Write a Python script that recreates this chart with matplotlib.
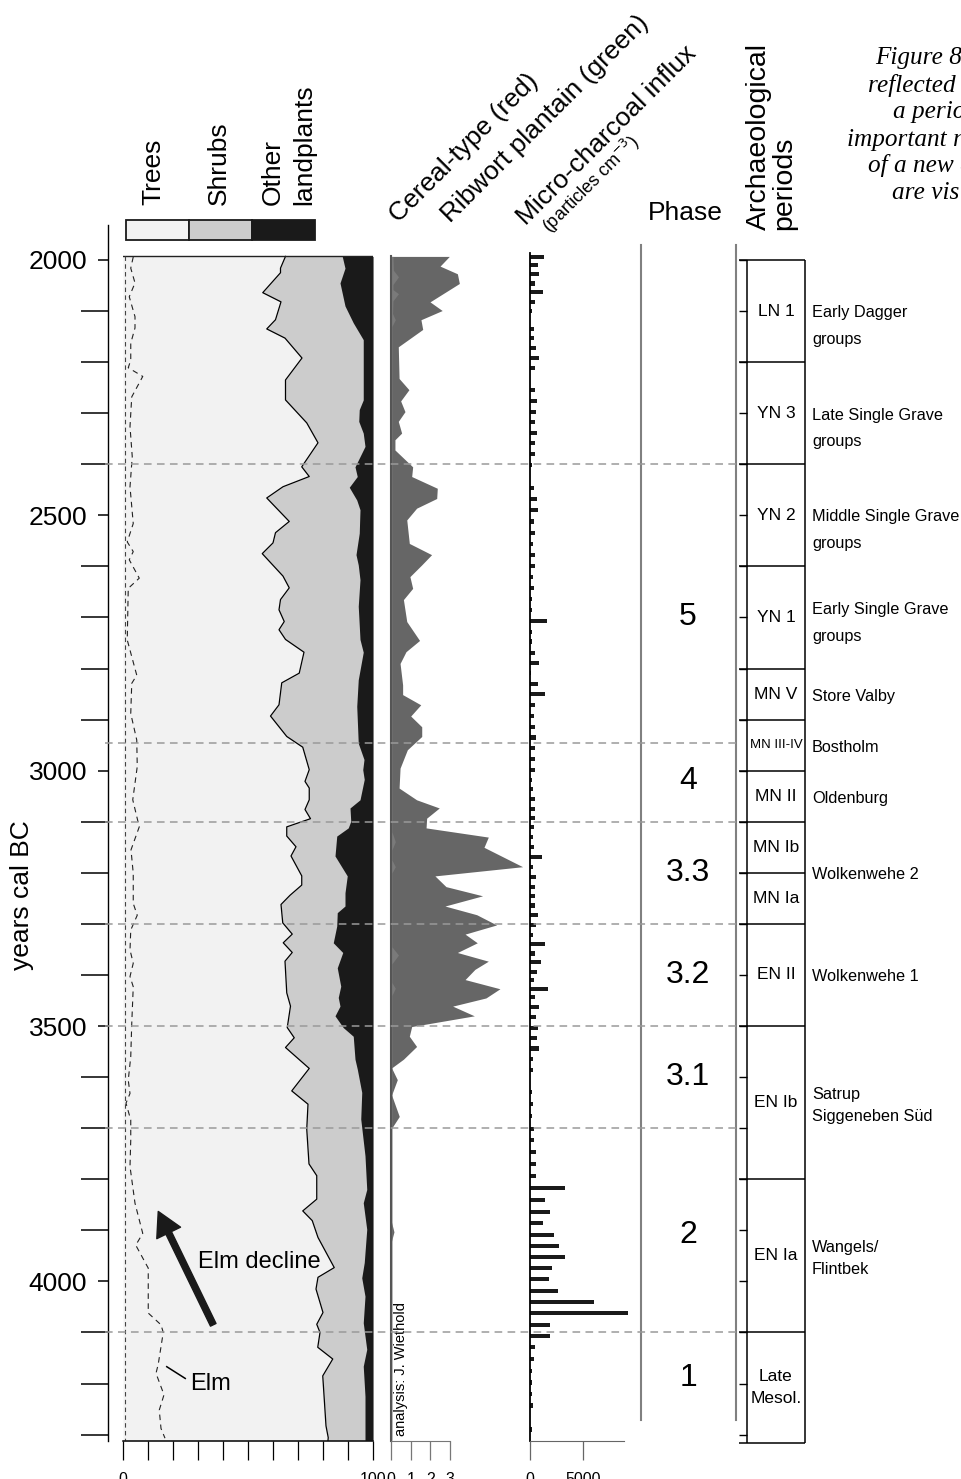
import matplotlib
matplotlib.use('Agg')
import matplotlib.pyplot as plt
from matplotlib.patches import Rectangle

plt.rcParams['font.family'] = ['Liberation Sans', 'DejaVu Sans']

# ------------------------------------------------------------------ data
tree_years = [1993, 2016, 2025, 2064, 2082, 2117, 2135, 2153, 2192, 2235, 2274, 2319, 2358,
              2405, 2424, 2444, 2466, 2512, 2534, 2554, 2575, 2619, 2642, 2665, 2685, 2708,
              2724, 2743, 2768, 2809, 2828, 2871, 2893, 2933, 2954, 2998, 3021, 3034, 3057,
              3076, 3094, 3110, 3128, 3149, 3167, 3206, 3224, 3244, 3262, 3298, 3320, 3337,
              3356, 3373, 3435, 3461, 3503, 3523, 3542, 3583, 3627, 3653, 3702, 3770, 3793,
              3839, 3862, 3881, 3914, 3973, 3992, 4015, 4061, 4084, 4100, 4129, 4152, 4185,
              4283, 4306, 4311]
tree_pct = [65, 63, 63, 55.9, 63.2, 61, 57.5, 64.8, 71.6, 65, 65, 73.5, 78,
            71.5, 74.5, 64, 57.5, 66.5, 61, 60, 55.7, 64, 66.5, 63, 62.4, 64.5,
            62.4, 65, 72.4, 70.5, 63.5, 62.4, 59, 65.5, 71.9, 74.5, 72.8, 74.5, 74.5,
            72.8, 75, 65.5, 65.5, 69.2, 67.2, 71.5, 71.5, 66.8, 63.2, 63.9, 67.7, 64.1,
            67.7, 64.8, 65.5, 67, 65.7, 68.5, 65, 74.5, 67.5, 74, 73.5, 74.4, 77.5,
            77.5, 71.9, 75.7, 78, 84.5, 78, 77.2, 80, 77.5, 78.8, 77.9, 83.9, 79.9,
            81.2, 82.1, 82]

shrub_years = [1993, 2016, 2045, 2090, 2123, 2156, 2274, 2293, 2316, 2339, 2365, 2405, 2424,
               2445, 2470, 2489, 2535, 2577, 2597, 2626, 2678, 2743, 2768, 2822, 2874, 2946,
               2978, 2998, 3017, 3057, 3073, 3099, 3112, 3128, 3167, 3206, 3239, 3265, 3278,
               3304, 3337, 3356, 3386, 3422, 3444, 3461, 3480, 3503, 3520, 3565, 3584, 3630,
               3682, 3754, 3820, 3846, 3898, 3963, 3993, 4029, 4081, 4133, 4166, 4225, 4311]
shrub_pct = [87.7, 88.8, 86.8, 88.8, 92.1, 96.1, 96.1, 94.5, 94.3, 96.1, 96.8, 92.8, 93.7,
             90.5, 93.5, 94.8, 94.5, 93.2, 94.1, 94.8, 94.1, 94.8, 96.1, 94.1, 93.5, 94.1,
             96.4, 95.9, 96.5, 94.8, 90.8, 91.1, 90.1, 85.5, 84.8, 89.7, 88.8, 88.8, 85.7,
             85.5, 84.1, 87.9, 85.7, 87.1, 86.1, 86.8, 84.8, 88.1, 92.1, 92.8, 93.7, 95.5,
             95.1, 96.8, 97.5, 96.1, 97.5, 96.5, 95.5, 96.8, 96.1, 97.5, 96.1, 96.8, 96.8]

elm_years = [1994, 2016, 2045, 2072, 2111, 2133, 2163, 2196, 2211, 2228, 2268, 2326, 2385,
             2444, 2516, 2552, 2571, 2587, 2623, 2643, 2744, 2813, 2829, 2888, 2940, 2992,
             3057, 3110, 3155, 3201, 3260, 3283, 3312, 3351, 3377, 3403, 3423, 3495, 3560,
             3606, 3632, 3651, 3684, 3723, 3775, 3847, 3906, 3929, 3974, 4062, 4085, 4100,
             4162, 4180, 4222, 4252, 4288, 4307]
elm_pct = [4.1, 3.1, 4.8, 2.5, 4.8, 4.8, 3.1, 3.1, 2.1, 7.9, 3.5, 2.8, 3.7,
           2.8, 4.1, 1.7, 4.1, 2.5, 6.5, 2.1, 1.7, 5.5, 3.5, 3.1, 5.5, 5.7,
           3.9, 6.5, 3.2, 4.1, 4.1, 5.7, 3.1, 2.8, 4.1, 2.8, 4.1, 3.5, 3.1,
           2.1, 2.8, 1.2, 3.1, 3.1, 2.8, 4.8, 7.9, 5.1, 10.1, 10.1, 15.2, 16.1,
           14.1, 13.2, 16.4, 14.5, 15.2, 16.8]

trace_years = [1993, 4311]
trace_pct = [0.6, 0.6]

ribwort_years = [1993, 2012, 2027, 2046, 2082, 2099, 2117, 2136, 2170, 2232, 2254, 2276, 2297,
                 2316, 2339, 2352, 2372, 2405, 2424, 2447, 2467, 2486, 2509, 2555, 2577, 2597,
                 2620, 2643, 2665, 2708, 2745, 2767, 2790, 2832, 2851, 2871, 2893, 2914, 2933,
                 2959, 2995, 3034, 3057, 3073, 3093, 3112, 3130, 3150, 3188, 3206, 3227, 3245,
                 3265, 3282, 3302, 3320, 3337, 3356, 3373, 3389, 3409, 3427, 3445, 3461, 3480,
                 3501, 3520, 3540, 3565, 3582, 3605, 3635, 3677, 3702, 3880, 3903, 3925, 4311]
ribwort_vals = [2.96, 2.49, 3.37, 3.47, 1.98, 2.6, 1.52, 1.61, 0.37, 0.41, 0.91, 0.49, 0.71,
                0.37, 0.54, 0.2, 0.2, 1.1, 1.05, 2.35, 2.32, 1.3, 0.8, 0.93, 2.06, 1.56,
                0.96, 1.1, 0.63, 0.8, 1.45, 0.76, 0.46, 0.59, 0.59, 1.51, 1.0, 1.56, 1.56,
                0.83, 0.46, 0.41, 1.3, 2.45, 1.81, 1.78, 4.94, 4.72, 6.68, 2.23, 2.79, 4.65,
                2.74, 4.35, 5.36, 3.76, 4.38, 3.37, 4.94, 4.26, 3.76, 5.53, 4.82, 3.13, 4.23,
                1.05, 0.93, 1.3, 0.63, 0.03, 0.32, 0.03, 0.42, 0.0, 0.0, 0.15, 0.0, 0.0]

cereal_years = [1993, 2020, 2033, 2048, 2058, 2066, 2080, 2105, 2117, 2130, 3120, 3139, 3155,
                3175, 3188, 3200, 3345, 3361, 3378, 3415, 3426, 3440, 4311]
cereal_vals = [0.1, 0.12, 0.38, 0.1, 0.1, 0.38, 0.1, 0.08, 0.22, 0.05, 0.05, 0.22, 0.05,
               0.05, 0.22, 0.05, 0.05, 0.38, 0.05, 0.05, 0.22, 0.05, 0.05]

charcoal_years = [1994, 2010, 2027, 2046, 2063, 2082, 2099, 2136, 2153, 2172, 2192, 2212, 2255,
                  2276, 2297, 2318, 2338, 2359, 2380, 2401, 2447, 2468, 2490, 2512, 2534, 2556,
                  2578, 2599, 2621, 2643, 2664, 2685, 2707, 2728, 2747, 2769, 2790, 2809, 2830,
                  2850, 2871, 2893, 2914, 2935, 2956, 2977, 2999, 3018, 3036, 3055, 3075, 3093,
                  3111, 3130, 3150, 3169, 3188, 3208, 3227, 3245, 3264, 3283, 3303, 3321, 3339,
                  3358, 3375, 3394, 3410, 3427, 3444, 3462, 3483, 3503, 3523, 3544, 3565, 3586,
                  3630, 3653, 3677, 3702, 3723, 3747, 3771, 3794, 3818, 3841, 3864, 3886, 3909,
                  3930, 3953, 3974, 3996, 4019, 4041, 4062, 4085, 4107, 4129, 4152, 4175, 4198,
                  4221, 4243, 4290]
charcoal_vals = [1340, 810, 900, 500, 1280, 500, 220, 400, 400, 560, 840, 500, 500,
                 710, 590, 470, 650, 500, 500, 190, 400, 650, 750, 400, 500, 280,
                 500, 500, 280, 400, 190, 190, 1590, 190, 190, 500, 840, 100, 780,
                 1460, 500, 400, 500, 560, 500, 500, 500, 190, 280, 500, 500, 500,
                 440, 340, 440, 1180, 340, 590, 530, 500, 500, 750, 590, 280, 1460,
                 530, 1060, 710, 400, 1740, 530, 900, 620, 780, 650, 900, 280, 280,
                 190, 280, 220, 440, 400, 560, 590, 590, 3330, 1400, 1870, 1240, 2300,
                 2770, 3270, 2110, 1780, 2620, 5980, 9160, 1870, 1870, 530, 440, 190, 190,
                 190, 340, 190]

phase_bounds = [2400, 2945, 3100, 3300, 3500, 3700, 4100]
phase_labels = ['5', '4', '3.3', '3.2', '3.1', '2', '1']
phase_label_years = [2700, 3020, 3200, 3400, 3600, 3910, 4190]

period_bounds = [2000, 2200, 2400, 2600, 2800, 2900, 3000, 3100, 3200, 3300, 3500, 3800,
                 4100, 4316]
period_codes = ['LN 1', 'YN 3', 'YN 2', 'YN 1', 'MN V', 'MN III-IV', 'MN II', 'MN Ib',
                'MN Ia', 'EN II', 'EN Ib', 'EN Ia', 'Late\nMesol.']
culture_labels = ['Early Dagger\ngroups', 'Late Single Grave\ngroups',
                  'Middle Single Grave\ngroups', 'Early Single Grave\ngroups', 'Store Valby',
                  'Bostholm', 'Oldenburg', 'Wolkenwehe 2', 'Wolkenwehe 1',
                  'Satrup\nSiggeneben Süd', 'Wangels/\nFlintbek']
culture_years = [2130, 2330, 2528, 2710, 2854, 2954, 3055, 3204, 3403, 3656, 3955]

caption_lines = ['Figure 8', 'reflected i', 'a perio', 'important r', 'of a new c', 'are vis']

# ------------------------------------------------------------------ layout
W, H = 961, 1479
TOP_PX, BOT_PX = 225, 1441
Y_TOP, Y_BOT = 1931.5, 4312.5

fig = plt.figure(figsize=(W / 100, H / 100), dpi=100)

def add_ax(x0, x1):
    ax = fig.add_axes([x0 / W, 1 - BOT_PX / H, (x1 - x0) / W, (BOT_PX - TOP_PX) / H])
    ax.set_ylim(Y_BOT, Y_TOP)
    ax.patch.set_alpha(0)
    for s in ax.spines.values():
        s.set_visible(False)
    return ax

def ftext(x, y, s, **kw):
    fig.text(x / W, 1 - y / H, s, **kw)

LIGHT, MID, DARK, RIB = '#f2f2f2', '#cccccc', '#1a1a1a', '#666666'
XTICK = dict(length=13.7, width=0.9, pad=8.5, labelsize=11.5)

# ------------------------------------------------------------------ pollen panel
ax = add_ax(123, 373)
ax.set_xlim(0, 100)
ax.fill_betweenx(tree_years, 0, tree_pct, color=LIGHT, lw=0)
ax.fill_betweenx(tree_years, tree_pct, 100, color=MID, lw=0)
ax.fill_betweenx(shrub_years, shrub_pct, 100, color=DARK, lw=0)
ax.plot(tree_pct, tree_years, color='black', lw=0.9)
ax.plot([0, 100], [tree_years[0], tree_years[0]], color='#222222', lw=1.0)
ax.plot(trace_pct, trace_years, color='#444444', lw=0.8, dashes=(4, 3))
ax.plot(elm_pct, elm_years, color='#222222', lw=0.8, dashes=(5, 4))

ax.spines['left'].set_visible(True)
ax.spines['left'].set_position(('outward', 10.8))
ax.spines['left'].set_linewidth(1.0)
ax.spines['bottom'].set_visible(True)
ax.spines['bottom'].set_linewidth(1.1)
ax.set_yticks([2000, 2500, 3000, 3500, 4000])
ax.set_yticklabels(['2000', '2500', '3000', '3500', '4000'])
ax.set_yticks([y for y in range(2100, 4301, 100) if y % 500 != 0], minor=True)
ax.tick_params(axis='y', which='major', length=7.2, width=1.1, pad=7.7, labelsize=19)
ax.tick_params(axis='y', which='minor', length=19.4, width=1.1)
ax.set_xticks(range(0, 101, 10))
ax.set_xticklabels(['0'] + [''] * 9 + ['100'])
ax.tick_params(axis='x', **XTICK)

ax.annotate('', xy=(14.1, 3863), xytext=(36.1, 4085),
            arrowprops=dict(arrowstyle='simple,head_length=0.86,head_width=0.95,tail_width=0.22',
                            color=DARK, mutation_scale=20, shrinkA=0, shrinkB=0))
ax.text(30, 3962, 'Elm decline', fontsize=17, va='center', ha='left')
ax.text(26.8, 4201, 'Elm', fontsize=17, va='center', ha='left')
ax.plot([17.5, 24.9], [4167, 4190], color='black', lw=1.1)

# ------------------------------------------------------------------ cereal / ribwort
axc = add_ax(391, 529)
axc.set_xlim(0, 7.005)
axc.fill_betweenx(ribwort_years, 0, ribwort_vals, color=RIB, lw=0)
axc.fill_betweenx(cereal_years, 0, cereal_vals, color='#7a7a7a', lw=0)
axc.spines['left'].set_visible(True)
axc.spines['left'].set_bounds(1993, Y_BOT)
axc.spines['left'].set_color('#555555')
axc.spines['left'].set_linewidth(1.5)
axc.spines['bottom'].set_visible(True)
axc.spines['bottom'].set_bounds(0, 3)
axc.spines['bottom'].set_color('#777777')
axc.set_yticks([])
axc.set_xticks([0, 1, 2, 3])
axc.tick_params(axis='x', color='#777777', **XTICK)
axc.text(0.5, 4302, 'analysis: J. Wiethold', rotation=90, fontsize=10.5,
         ha='center', va='bottom')

# ------------------------------------------------------------------ charcoal
axk = add_ax(529.7, 640)
axk.set_xlim(0, 10308)
axk.barh(charcoal_years, charcoal_vals, height=8, color=DARK, lw=0)
axk.spines['left'].set_visible(True)
axk.spines['left'].set_bounds(1987, Y_BOT)
axk.spines['left'].set_linewidth(1.3)
axk.spines['bottom'].set_visible(True)
axk.spines['bottom'].set_bounds(0, 8800)
axk.spines['bottom'].set_color('#666666')
axk.set_yticks([])
axk.set_xticks([0, 5000])
axk.set_xticklabels(['0', '5000'])
axk.tick_params(axis='x', color='#666666', **XTICK)

# ------------------------------------------------------------------ phases
axp = add_ax(641, 736)
axp.set_xlim(0, 95)
axp.set_xticks([]); axp.set_yticks([])
axp.plot([0, 0], [1971, 4271], color='#808080', lw=1.5, clip_on=False)
for lab, yr in zip(phase_labels, phase_label_years):
    axp.text(47, yr, lab, fontsize=23, ha='center', va='center')

# ------------------------------------------------------------------ archaeological periods
axa = add_ax(736, 961)
axa.set_xlim(0, 225)
axa.set_xticks([]); axa.set_yticks([])
axa.plot([0, 0], [1971, 4271], color='#808080', lw=1.5, clip_on=False)
axa.hlines(list(range(2000, 4301, 100)), 3, 11, color='black', lw=1.0, clip_on=False)
axa.hlines(period_bounds, 3, 69, color='black', lw=1.1, clip_on=False)
axa.vlines([11, 69], period_bounds[0], period_bounds[-1], color='black', lw=1.1, clip_on=False)
for i, code in enumerate(period_codes):
    mid = (period_bounds[i] + period_bounds[i + 1]) / 2
    fs = 9.5 if code == 'MN III-IV' else 12.5
    axa.text(40, mid, code, fontsize=fs, ha='center', va='center',
             linespacing=1.53, clip_on=False)
for i, (lab, yr) in enumerate(zip(culture_labels, culture_years)):
    ls = 1.99 if i < 4 else (1.57 if i == 9 else 1.65)
    axa.text(76, yr, lab, fontsize=11.7, ha='left', va='center',
             linespacing=ls, clip_on=False)

# ------------------------------------------------------------------ phase boundary dashes
axd = add_ax(105, 736)
axd.set_xlim(0, 1)
axd.set_xticks([]); axd.set_yticks([])
axd.hlines(phase_bounds, 0, 1, colors='#9a9a9a', lw=1.1, linestyles=(0, (5, 3.5)))

# ------------------------------------------------------------------ legend boxes & headers
for x0, x1, c in [(126, 189, LIGHT), (189, 252, MID), (252, 315, DARK)]:
    fig.patches.append(Rectangle((x0 / W, 1 - 240 / H), (x1 - x0) / W, 20 / H,
                                 transform=fig.transFigure, facecolor=c,
                                 edgecolor='#1a1a1a', lw=1.3))
ftext(153, 205, 'Trees', rotation=90, fontsize=19, ha='center', va='bottom')
ftext(219, 205, 'Shrubs', rotation=90, fontsize=19, ha='center', va='bottom')
ftext(288.5, 205, 'Other\nlandplants', rotation=90, fontsize=19, ha='center', va='bottom',
      multialignment='left', linespacing=1.42)
ftext(385, 227, 'Cereal-type (red)', rotation=45, fontsize=19, ha='left', va='bottom')
ftext(437, 227, 'Ribwort plantain (green)', rotation=45, fontsize=19, ha='left', va='bottom')
ftext(513, 230, 'Micro-charcoal influx', rotation=45, fontsize=19, ha='left', va='bottom')
ftext(537, 238, r'(particles cm$^{-3}$)', rotation=45, fontsize=13, ha='left', va='bottom')
ftext(685, 220, 'Phase', fontsize=19, ha='center', va='baseline')
ftext(771.5, 230, 'Archaeological\nperiods', rotation=90, fontsize=20.5, ha='center',
      va='bottom', multialignment='left', linespacing=1.0)
ftext(22, 895, 'years cal BC', rotation=90, fontsize=19, ha='center', va='center')

for s, (x, y) in zip(caption_lines, [(875, 64), (868, 92), (893, 118), (847, 146),
                                     (868, 172), (892, 199)]):
    ftext(x, y, s, fontsize=18.2, family='Liberation Serif', style='italic',
          ha='left', va='baseline')

fig.savefig('out.png', dpi=100)
